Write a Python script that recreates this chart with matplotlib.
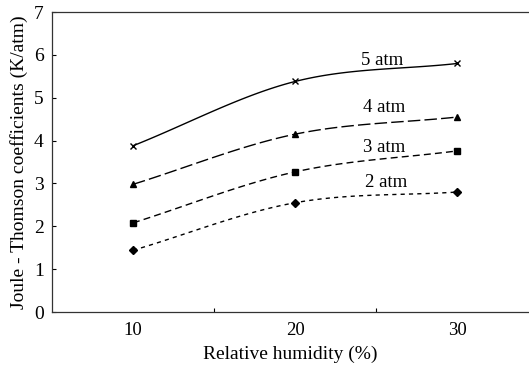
import numpy as np
import matplotlib.pyplot as plt

plt.rcParams['font.family'] = ['Liberation Serif', 'DejaVu Serif']

# Dane
humidity = [10, 20, 30]
jt_5atm = [3.88, 5.38, 5.80]
jt_4atm = [2.98, 4.15, 4.55]
jt_3atm = [2.08, 3.27, 3.76]
jt_2atm = [1.44, 2.55, 2.80]
labels = ["5 atm", "4 atm", "3 atm", "2 atm"]
label_pos = [(25.4, 5.87), (25.5, 4.78), (25.5, 3.84), (25.6, 3.02)]


def smooth(x, y, n=40):
    # gladka krzywa przez punkty (Catmull-Rom)
    x = np.asarray(x, float)
    y = np.asarray(y, float)
    px = np.concatenate([[2 * x[0] - x[1]], x, [2 * x[-1] - x[-2]]])
    py = np.concatenate([[2 * y[0] - y[1]], y, [2 * y[-1] - y[-2]]])
    xs, ys = [], []
    for i in range(1, len(px) - 2):
        t = np.linspace(0, 1, n)
        for p, out in ((px, xs), (py, ys)):
            p0, p1, p2, p3 = p[i - 1], p[i], p[i + 1], p[i + 2]
            out.extend(0.5 * (2 * p1 + (-p0 + p2) * t
                              + (2 * p0 - 5 * p1 + 4 * p2 - p3) * t ** 2
                              + (-p0 + 3 * p1 - 3 * p2 + p3) * t ** 3))
    return xs, ys


fig = plt.figure(figsize=(5.29, 3.66), dpi=100)
ax = fig.add_axes([0.0983, 0.1475, 0.9017, 0.8195])

series = [jt_5atm, jt_4atm, jt_3atm, jt_2atm]
styles = [(0, ()), (0, (9, 3)), (0, (5, 3)), (0, (3, 3))]
markers = ['x', '^', 's', 'D']
msizes = [4.5, 4.5, 4.5, 4.5]

for vals, ls, m, ms in zip(series, styles, markers, msizes):
    sx, sy = smooth(humidity, vals)
    ax.plot(sx, sy, color='black', linestyle=ls, linewidth=1.0)
    ax.plot(humidity, vals, linestyle='none', marker=m, color='black',
            markersize=ms, markeredgewidth=1.0)

for lab, (lx, ly) in zip(labels, label_pos):
    ax.text(lx, ly, lab, ha='center', va='center', fontsize=13.5)

ax.set_xlim(5, 34.44)
ax.set_ylim(0, 7)
ax.set_xticks([15, 25])
ax.set_xticklabels([])
ax.set_xticks([10, 20, 30], minor=True)
ax.set_xticklabels(['10', '20', '30'], minor=True)
ax.tick_params(axis='x', which='minor', length=0, labelsize=13.5, pad=7)
ax.tick_params(axis='x', which='major', direction='in', length=3)
ax.set_yticks(range(8))
ax.tick_params(axis='y', direction='in', length=3, labelsize=14, pad=6)
ax.spines['right'].set_visible(False)
for s in ['left', 'bottom', 'top']:
    ax.spines[s].set_linewidth(0.9)
    ax.spines[s].set_color('#333333')

ax.set_xlabel("Relative humidity (%)", fontsize=14, labelpad=5)
ax.set_ylabel("Joule - Thomson coefficients (K/atm)", fontsize=14, labelpad=4)

fig.savefig("out.png", dpi=100)
